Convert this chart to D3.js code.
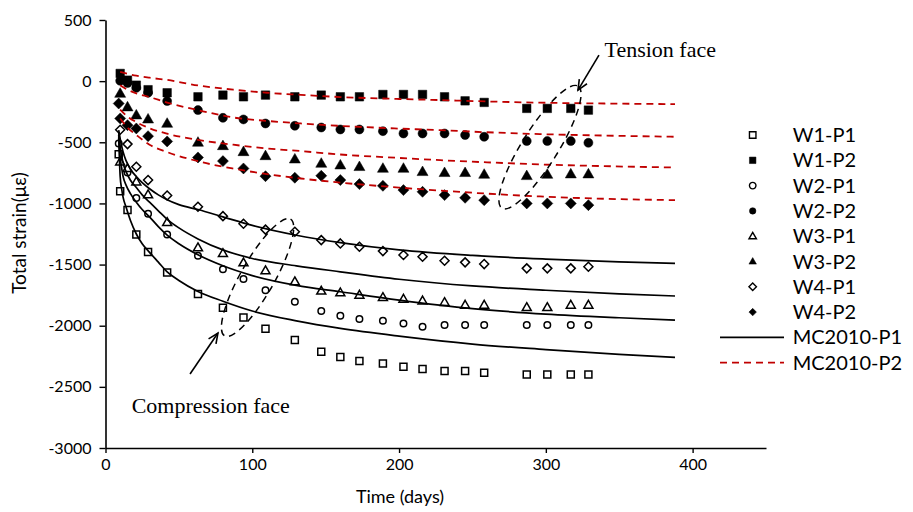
<!DOCTYPE html>
<html><head><meta charset="utf-8">
<script src="https://cdn.jsdelivr.net/npm/d3@7"></script>
<style>
body{margin:0;background:#fff;}
svg{display:block;}
text{font-family:Lato,"Open Sans",sans-serif;fill:#000;}
.serif{font-family:"Liberation Serif","Times New Roman",serif;}
</style></head>
<body>
<svg id="c" width="913" height="512"></svg>
<script>
// ---------- data ----------
const days = [9, 10, 15, 21, 29, 42, 63, 80, 94, 109, 129, 147, 160, 173, 189, 203, 216, 231, 245, 258, 287, 301, 317, 329];
const W1P1 = [-597, -900, -1054, -1255, -1398, -1565, -1741, -1853, -1932, -2025, -2117, -2213, -2256, -2289, -2308, -2335, -2354, -2371, -2371, -2384, -2398, -2398, -2398, -2398];
const W1P2 = [null, 63, 8, -33, -70, -95, -128, -114, -128, -114, -128, -114, -128, -128, -109, -109, -109, -128, -161, -174, -223, -223, -223, -237];
const W2P1 = [-509, null, -747, -955, -1084, -1255, -1428, -1539, -1619, -1711, -1804, -1880, -1918, -1946, -1959, -1981, -2008, -1995, -1995, -1995, -1995, -1995, -1995, -1995];
const W2P2 = [null, 3, -15, -55, -95, -163, -237, -300, -313, -346, -365, -379, -395, -395, -409, -428, -428, -428, -441, -455, -490, -490, -490, -504];
const W3P1 = [null, -660, -714, -823, -928, -1155, -1362, -1409, -1485, -1550, -1640, -1716, -1730, -1749, -1768, -1782, -1796, -1809, -1831, -1831, -1850, -1850, -1831, -1831];
const W3P2 = [null, -101, -212, -278, -311, -346, -501, -529, -578, -611, -638, -673, -687, -700, -714, -714, -741, -749, -749, -763, -774, -763, -760, -760];
const W4P1 = [null, -398, -515, -700, -809, -935, -1027, -1104, -1166, -1214, -1232, -1300, -1327, -1354, -1390, -1422, -1436, -1469, -1482, -1496, -1531, -1531, -1531, -1518];
const W4P2 = [-183, -305, -360, -387, -450, -493, -624, -654, -714, -777, -790, -774, -809, -842, -856, -891, -905, -932, -954, -973, -1000, -1000, -1000, -1014];

const modelDaysP1 = [9, 10, 11, 12, 14, 17, 21, 25, 30, 36, 42, 50, 63, 80, 100, 130, 160, 200, 250, 300, 350, 388];
const mcP1_a = [-400, -470, -530, -580, -650, -720, -780, -830, -880, -930, -970, -1010, -1050, -1110, -1180, -1260, -1320, -1380, -1425, -1455, -1478, -1490];
const mcP1_b = [-420, -540, -610, -670, -740, -810, -870, -930, -990, -1060, -1130, -1200, -1290, -1380, -1450, -1510, -1559, -1620, -1675, -1710, -1740, -1757];
const mcP1_c = [-440, -620, -710, -780, -850, -920, -990, -1050, -1110, -1190, -1260, -1330, -1420, -1510, -1590, -1670, -1722, -1790, -1860, -1905, -1935, -1954];
const mcP1_d = [-460, -780, -880, -950, -1030, -1140, -1250, -1330, -1400, -1480, -1560, -1630, -1720, -1800, -1880, -1960, -2022, -2085, -2150, -2195, -2235, -2259];

const modelDaysP2 = [10, 15, 21, 30, 42, 63, 87, 110, 133, 160, 200, 228, 260, 296, 340, 388];
const mcP2_a = [75, 60, 45, 28, 10, -35, -70, -95, -112, -130, -146, -155, -166, -176, -183, -188];
const mcP2_b = [-33, -70, -100, -130, -175, -237, -297, -325, -346, -366, -388, -401, -418, -433, -445, -455];
const mcP2_c = [-232, -290, -335, -385, -430, -480, -520, -550, -572, -600, -628, -646, -664, -681, -695, -706];
const mcP2_d = [-305, -380, -440, -520, -580, -655, -715, -760, -796, -830, -870, -895, -920, -943, -962, -973];

const xTicks = [0, 100, 200, 300, 400];
const yTicks = [500, 0, -500, -1000, -1500, -2000, -2500, -3000];
const legendLabels = ["W1-P1", "W1-P2", "W2-P1", "W2-P2", "W3-P1", "W3-P2", "W4-P1", "W4-P2", "MC2010-P1", "MC2010-P2"];

// ---------- chart ----------
const svg = d3.select("#c");
const x = d3.scaleLinear().domain([0, 450]).range([105.5, 766]);
const y = d3.scaleLinear().domain([-3000, 500]).range([448, 20]);

const RED = "#C00000";

function shapePath(type, s) {
  const h = s / 2;
  if (type === "square") return `M${-h},${-h}H${h}V${h}H${-h}Z`;
  if (type === "circle") return `M${-h},0A${h},${h} 0 1,0 ${h},0A${h},${h} 0 1,0 ${-h},0Z`;
  if (type === "triangle") { const th = s * 0.87; return `M0,${-th*0.6}L${h},${th*0.4}L${-h},${th*0.4}Z`; }
  if (type === "diamond") return `M0,${-h}L${h},0L0,${h}L${-h},0Z`;
}

const series = [
  {name: "W1-P1", vals: W1P1, type: "square", filled: false, size: 7},
  {name: "W1-P2", vals: W1P2, type: "square", filled: true, size: 8.5},
  {name: "W2-P1", vals: W2P1, type: "circle", filled: false, size: 6.5},
  {name: "W2-P2", vals: W2P2, type: "circle", filled: true, size: 9},
  {name: "W3-P1", vals: W3P1, type: "triangle", filled: false, size: 9},
  {name: "W3-P2", vals: W3P2, type: "triangle", filled: true, size: 11},
  {name: "W4-P1", vals: W4P1, type: "diamond", filled: false, size: 9},
  {name: "W4-P2", vals: W4P2, type: "diamond", filled: true, size: 11}
];

const fmt = d => String(d);

// axes
const gx = svg.append("g").attr("transform", `translate(0,${y(-3000)})`)
  .call(d3.axisBottom(x).tickValues(xTicks).tickFormat(fmt).tickSize(5).tickSizeOuter(0).tickPadding(6));
gx.select(".domain").attr("stroke", "#000").attr("stroke-width", 1.6);
gx.selectAll(".tick line").attr("stroke", "#000").attr("stroke-width", 1.4);
gx.selectAll(".tick text").attr("font-size", 16).attr("font-family", "Lato");

const gy = svg.append("g").attr("transform", `translate(${x(0)},0)`)
  .call(d3.axisLeft(y).tickValues(yTicks).tickFormat(fmt).tickSize(6).tickSizeOuter(0).tickPadding(8));
gy.select(".domain").attr("stroke", "#000").attr("stroke-width", 1.6);
gy.selectAll(".tick line").attr("stroke", "#000").attr("stroke-width", 1.4);
gy.selectAll(".tick text").attr("font-size", 16).attr("font-family", "Lato");

// axis titles
svg.append("text").attr("x", 400).attr("y", 503).attr("text-anchor", "middle")
  .attr("font-size", 18).text("Time (days)");
svg.append("text").attr("transform", "translate(26,233) rotate(-90)").attr("text-anchor", "middle")
  .attr("font-size", 19).text("Total strain(με)");

// markers
const plot = svg.append("g");
series.forEach(s => {
  const pts = days.map((d, i) => [d, s.vals[i]]).filter(p => p[1] !== null);
  plot.append("g").selectAll("path").data(pts).join("path")
    .attr("transform", p => `translate(${x(p[0])},${y(p[1])})`)
    .attr("d", shapePath(s.type, s.size))
    .attr("fill", s.filled ? "#000" : "#fff")
    .attr("stroke", "#000")
    .attr("stroke-width", s.filled ? 0.5 : 1.5);
});

// model lines
const line = d3.line().x(p => x(p[0])).y(p => y(p[1])).curve(d3.curveMonotoneX);
[mcP1_a, mcP1_b, mcP1_c, mcP1_d].forEach(v => {
  plot.append("path").attr("d", line(modelDaysP1.map((d, i) => [d, v[i]])))
    .attr("fill", "none").attr("stroke", "#000").attr("stroke-width", 1.7);
});
[mcP2_a, mcP2_b, mcP2_c, mcP2_d].forEach(v => {
  plot.append("path").attr("d", line(modelDaysP2.map((d, i) => [d, v[i]])))
    .attr("fill", "none").attr("stroke", RED).attr("stroke-width", 1.8)
    .attr("stroke-dasharray", "7,5");
});

// annotations (positioned in data units)
function ell(cx, cy, rx, ry, ang) {
  svg.append("ellipse").attr("cx", 0).attr("cy", 0).attr("rx", rx).attr("ry", ry)
    .attr("transform", `translate(${x(cx)},${y(cy)}) rotate(${ang})`)
    .attr("fill", "none").attr("stroke", "#000").attr("stroke-width", 1.5).attr("stroke-dasharray", "7,5");
}
ell(296, -540, 72, 18, -58);
ell(103.6, -1606, 67, 17, -60.5);

function arrow(x1, y1, x2, y2) {
  const X1 = x(x1), Y1 = y(y1), X2 = x(x2), Y2 = y(y2);
  svg.append("line").attr("x1", X1).attr("y1", Y1).attr("x2", X2).attr("y2", Y2)
    .attr("stroke", "#000").attr("stroke-width", 1.6);
  const a = Math.atan2(Y1 - Y2, X1 - X2), L = 11, w = 0.42;
  const p1 = [X2 + L * Math.cos(a + w), Y2 + L * Math.sin(a + w)];
  const p2 = [X2 + L * Math.cos(a - w), Y2 + L * Math.sin(a - w)];
  svg.append("path").attr("d", `M${p1}L${X2},${Y2}L${p2}`)
    .attr("fill", "none").attr("stroke", "#000").attr("stroke-width", 1.6);
}
arrow(336.2, 213, 321.9, -73);
arrow(57.6, -2395, 76.6, -2060);

svg.append("text").attr("class", "serif").attr("x", x(340)).attr("y", y(197))
  .attr("font-size", 22).text("Tension face");
svg.append("text").attr("class", "serif").attr("x", x(17.8)).attr("y", y(-2712))
  .attr("font-size", 22).text("Compression face");

// legend
const lg = svg.append("g");
legendLabels.forEach((lab, i) => {
  const cy = 135 + i * 25.3;
  if (i < 8) {
    const s = series[i];
    const sz = s.type === "triangle" || s.type === "diamond" ? 7.5 : 6.5;
    lg.append("path").attr("transform", `translate(752.7,${cy})`)
      .attr("d", shapePath(s.type, sz))
      .attr("fill", s.filled ? "#000" : "#fff").attr("stroke", "#000")
      .attr("stroke-width", s.filled ? 0.5 : 1.4);
  } else {
    lg.append("line").attr("x1", 720).attr("x2", 784).attr("y1", cy).attr("y2", cy)
      .attr("stroke", i === 8 ? "#000" : RED).attr("stroke-width", 1.8)
      .attr("stroke-dasharray", i === 8 ? null : "7,5");
  }
  lg.append("text").attr("x", 792.7).attr("y", cy).attr("dy", "0.35em")
    .attr("font-size", 20).text(lab);
});
</script>
</body></html>
